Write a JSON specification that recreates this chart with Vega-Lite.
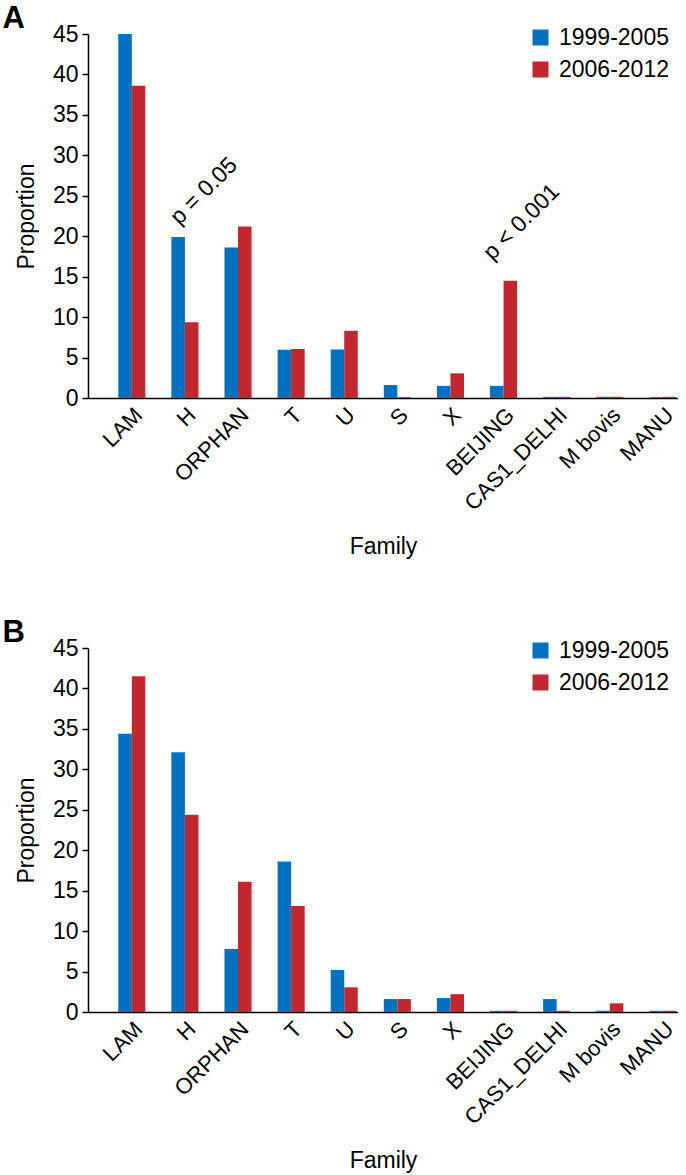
{
  "$schema": "https://vega.github.io/schema/vega-lite/v6.json",
  "padding": {"left": 2, "top": 3, "right": 0, "bottom": 0},
  "config": {
    "font": "Liberation Sans",
    "view": {"stroke": null},
    "axis": {
      "domainColor": "black", "domainWidth": 1.5, "tickColor": "black", "tickWidth": 1.5,
      "labelColor": "black", "titleColor": "black", "titleFontWeight": "normal", "grid": false
    },
    "legend": {"labelFontSize": 23, "labelColor": "black", "symbolType": "square", "symbolSize": 256, "symbolStrokeWidth": 0, "rowPadding": 8, "labelOffset": 7},
    "title": {"color": "black"}
  },
  "datasets": {
    "bars": [
      {"panel": "A", "Family": "LAM", "Period": "1999-2005", "Proportion": 45.0},
      {"panel": "A", "Family": "LAM", "Period": "2006-2012", "Proportion": 38.6},
      {"panel": "A", "Family": "H", "Period": "1999-2005", "Proportion": 19.9},
      {"panel": "A", "Family": "H", "Period": "2006-2012", "Proportion": 9.36},
      {"panel": "A", "Family": "ORPHAN", "Period": "1999-2005", "Proportion": 18.6},
      {"panel": "A", "Family": "ORPHAN", "Period": "2006-2012", "Proportion": 21.2},
      {"panel": "A", "Family": "T", "Period": "1999-2005", "Proportion": 5.97},
      {"panel": "A", "Family": "T", "Period": "2006-2012", "Proportion": 6.06},
      {"panel": "A", "Family": "U", "Period": "1999-2005", "Proportion": 6.0},
      {"panel": "A", "Family": "U", "Period": "2006-2012", "Proportion": 8.3},
      {"panel": "A", "Family": "S", "Period": "1999-2005", "Proportion": 1.6},
      {"panel": "A", "Family": "S", "Period": "2006-2012", "Proportion": 0.1},
      {"panel": "A", "Family": "X", "Period": "1999-2005", "Proportion": 1.5},
      {"panel": "A", "Family": "X", "Period": "2006-2012", "Proportion": 3.05},
      {"panel": "A", "Family": "BEIJING", "Period": "1999-2005", "Proportion": 1.5},
      {"panel": "A", "Family": "BEIJING", "Period": "2006-2012", "Proportion": 14.5},
      {"panel": "A", "Family": "CAS1_DELHI", "Period": "1999-2005", "Proportion": 0.15},
      {"panel": "A", "Family": "CAS1_DELHI", "Period": "2006-2012", "Proportion": 0.15},
      {"panel": "A", "Family": "M bovis", "Period": "1999-2005", "Proportion": 0.15},
      {"panel": "A", "Family": "M bovis", "Period": "2006-2012", "Proportion": 0.15},
      {"panel": "A", "Family": "MANU", "Period": "1999-2005", "Proportion": 0.1},
      {"panel": "A", "Family": "MANU", "Period": "2006-2012", "Proportion": 0.15},
      {"panel": "B", "Family": "LAM", "Period": "1999-2005", "Proportion": 34.4},
      {"panel": "B", "Family": "LAM", "Period": "2006-2012", "Proportion": 41.5},
      {"panel": "B", "Family": "H", "Period": "1999-2005", "Proportion": 32.1},
      {"panel": "B", "Family": "H", "Period": "2006-2012", "Proportion": 24.4},
      {"panel": "B", "Family": "ORPHAN", "Period": "1999-2005", "Proportion": 7.8},
      {"panel": "B", "Family": "ORPHAN", "Period": "2006-2012", "Proportion": 16.1},
      {"panel": "B", "Family": "T", "Period": "1999-2005", "Proportion": 18.6},
      {"panel": "B", "Family": "T", "Period": "2006-2012", "Proportion": 13.1},
      {"panel": "B", "Family": "U", "Period": "1999-2005", "Proportion": 5.2},
      {"panel": "B", "Family": "U", "Period": "2006-2012", "Proportion": 3.05},
      {"panel": "B", "Family": "S", "Period": "1999-2005", "Proportion": 1.6},
      {"panel": "B", "Family": "S", "Period": "2006-2012", "Proportion": 1.6},
      {"panel": "B", "Family": "X", "Period": "1999-2005", "Proportion": 1.73},
      {"panel": "B", "Family": "X", "Period": "2006-2012", "Proportion": 2.2},
      {"panel": "B", "Family": "BEIJING", "Period": "1999-2005", "Proportion": 0.15},
      {"panel": "B", "Family": "BEIJING", "Period": "2006-2012", "Proportion": 0.15},
      {"panel": "B", "Family": "CAS1_DELHI", "Period": "1999-2005", "Proportion": 1.6},
      {"panel": "B", "Family": "CAS1_DELHI", "Period": "2006-2012", "Proportion": 0.15},
      {"panel": "B", "Family": "M bovis", "Period": "1999-2005", "Proportion": 0.15},
      {"panel": "B", "Family": "M bovis", "Period": "2006-2012", "Proportion": 1.07},
      {"panel": "B", "Family": "MANU", "Period": "1999-2005", "Proportion": 0.15},
      {"panel": "B", "Family": "MANU", "Period": "2006-2012", "Proportion": 0.15}
    ],
    "notes": [
      {"Family": "H", "y": 22.0, "label": "p = 0.05"},
      {"Family": "BEIJING", "y": 18.3, "label": "p < 0.001"}
    ]
  },
  "resolve": {"legend": {"color": "independent"}},
  "spacing": 58,
  "vconcat": [
    {
      "title": {"text": "A", "anchor": "start", "frame": "bounds", "fontSize": 31, "fontWeight": "bold", "offset": -12, "dx": -13},
      "width": 590,
      "height": 364,
      "layer": [
        {
          "data": {"name": "bars"},
          "transform": [{"filter": "datum.panel == 'A'"}],
          "mark": {"type": "bar"},
          "encoding": {
            "x": {"field": "Family", "type": "nominal", "title": "Family",
              "sort": ["LAM", "H", "ORPHAN", "T", "U", "S", "X", "BEIJING", "CAS1_DELHI", "M bovis", "MANU"],
              "scale": {"paddingInner": 0.49, "paddingOuter": 0.3, "align": 0.95},
              "axis": {"ticks": false, "labelAngle": -45, "labelFontSize": 22, "titleFontSize": 23, "titlePadding": 22, "labelPadding": 6}},
            "xOffset": {"field": "Period", "type": "nominal", "scale": {"paddingInner": 0, "paddingOuter": 0}},
            "y": {"field": "Proportion", "type": "quantitative", "title": "Proportion", "scale": {"domain": [0, 45], "nice": false},
              "axis": {"values": [0, 5, 10, 15, 20, 25, 30, 35, 40, 45], "tickSize": 6, "labelFontSize": 23, "labelPadding": 4, "titleFontSize": 23, "titlePadding": 14}},
            "color": {"field": "Period", "type": "nominal", "scale": {"range": ["#0070c0", "#c1272d"]},
              "legend": {"title": null, "orient": "none", "legendX": 441, "legendY": -8}}
          }
        },
        {
          "data": {"name": "notes"},
          "transform": [{"filter": "datum.Family == 'H'"}],
          "mark": {"type": "text", "angle": 315, "align": "left", "baseline": "alphabetic", "fontSize": 23, "dx": -8},
          "encoding": {
            "x": {"field": "Family", "type": "nominal", "sort": ["LAM", "H", "ORPHAN", "T", "U", "S", "X", "BEIJING", "CAS1_DELHI", "M bovis", "MANU"]},
            "y": {"field": "y", "type": "quantitative"},
            "text": {"field": "label"}
          }
        },
        {
          "data": {"name": "notes"},
          "transform": [{"filter": "datum.Family == 'BEIJING'"}],
          "mark": {"type": "text", "angle": 315, "align": "left", "baseline": "alphabetic", "fontSize": 23, "dx": -16},
          "encoding": {
            "x": {"field": "Family", "type": "nominal", "sort": ["LAM", "H", "ORPHAN", "T", "U", "S", "X", "BEIJING", "CAS1_DELHI", "M bovis", "MANU"]},
            "y": {"field": "y", "type": "quantitative"},
            "text": {"field": "label"}
          }
        }
      ]
    },
    {
      "title": {"text": "B", "anchor": "start", "frame": "bounds", "fontSize": 31, "fontWeight": "bold", "offset": -12, "dx": -13},
      "width": 590,
      "height": 364,
      "data": {"name": "bars"},
      "transform": [{"filter": "datum.panel == 'B'"}],
      "mark": {"type": "bar"},
      "encoding": {
        "x": {"field": "Family", "type": "nominal", "title": "Family",
          "sort": ["LAM", "H", "ORPHAN", "T", "U", "S", "X", "BEIJING", "CAS1_DELHI", "M bovis", "MANU"],
          "scale": {"paddingInner": 0.49, "paddingOuter": 0.3, "align": 0.95},
          "axis": {"ticks": false, "labelAngle": -45, "labelFontSize": 22, "titleFontSize": 23, "titlePadding": 22, "labelPadding": 6}},
        "xOffset": {"field": "Period", "type": "nominal", "scale": {"paddingInner": 0, "paddingOuter": 0}},
        "y": {"field": "Proportion", "type": "quantitative", "title": "Proportion", "scale": {"domain": [0, 45], "nice": false},
          "axis": {"values": [0, 5, 10, 15, 20, 25, 30, 35, 40, 45], "tickSize": 6, "labelFontSize": 23, "labelPadding": 4, "titleFontSize": 23, "titlePadding": 14}},
        "color": {"field": "Period", "type": "nominal", "scale": {"range": ["#0070c0", "#c1272d"]},
          "legend": {"title": null, "orient": "none", "legendX": 441, "legendY": -9}}
      }
    }
  ]
}
